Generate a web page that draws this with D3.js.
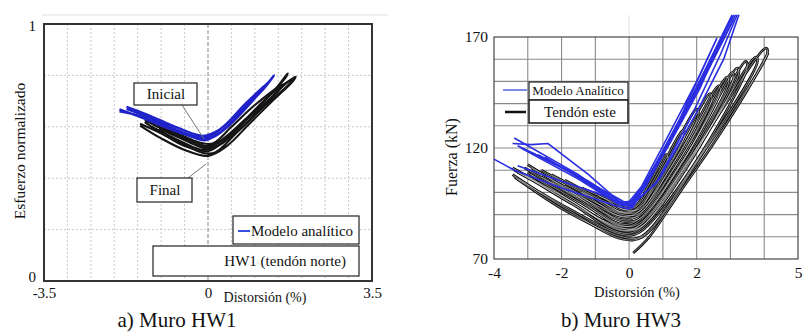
<!DOCTYPE html>
<html>
<head>
<meta charset="utf-8">
<script src="https://cdn.jsdelivr.net/npm/d3@7"></script>
<style>
  body { margin: 0; background: #fff; }
  svg text { font-family: "Liberation Serif", "DejaVu Serif", "Times New Roman", serif !important; fill: #111; }
</style>
</head>
<body>
<svg id="chart" width="809" height="335" font-family="Liberation Serif, DejaVu Serif, serif"></svg>
<script>
// ---- Datos: Muro HW1 (esfuerzo normalizado vs distorsión %) ----
const hw1XTicks = [-3.5, 0, 3.5];
const hw1YTicks = [0, 1];
const hw1GridX = [-3, -2.5, -2, -1.5, -1, -0.5, 0.5, 1, 1.5, 2, 2.5, 3];
const hw1GridY = [0.2, 0.4, 0.6, 0.8];

// ciclos del ensayo (tendón norte)
const hw1Ensayo = [
  [[-1.45,0.612],[-1.0,0.575],[-0.5,0.53],[-0.1,0.498],[0.15,0.5],[0.6,0.575],[1.1,0.665],[1.55,0.75],[1.87,0.795],[1.8,0.775],[1.4,0.705],[0.9,0.615],[0.4,0.525],[0.0,0.487],[-0.5,0.51],[-1.0,0.555],[-1.45,0.605]],
  [[-1.35,0.626],[-0.9,0.585],[-0.4,0.54],[-0.05,0.515],[0.2,0.525],[0.6,0.59],[1.1,0.68],[1.5,0.76],[1.7,0.808],[1.65,0.79],[1.3,0.72],[0.8,0.625],[0.35,0.545],[0.0,0.505],[-0.5,0.525],[-0.95,0.57],[-1.35,0.618]],
  [[-1.2,0.612],[-0.8,0.58],[-0.35,0.545],[0.0,0.525],[0.3,0.55],[0.8,0.63],[1.3,0.72],[1.8,0.785],[1.75,0.77],[1.2,0.68],[0.7,0.595],[0.25,0.53],[-0.1,0.51],[-0.6,0.545],[-1.2,0.6]],
  [[-1.05,0.6],[-0.6,0.57],[-0.2,0.54],[0.1,0.535],[0.5,0.6],[1.0,0.685],[1.6,0.765],[1.55,0.75],[0.9,0.64],[0.4,0.56],[0.0,0.52],[-0.5,0.55],[-1.05,0.592]]
];

// modelo analítico
const hw1Modelo = [
  [[-1.89,0.668],[-1.4,0.635],[-0.9,0.598],[-0.4,0.565],[-0.05,0.548],[0.3,0.585],[0.8,0.675],[1.2,0.75],[1.41,0.8],[1.3,0.775],[0.9,0.69],[0.45,0.605],[0.05,0.555],[-0.4,0.57],[-0.95,0.61],[-1.5,0.645],[-1.89,0.66]],
  [[-1.74,0.678],[-1.3,0.648],[-0.8,0.608],[-0.3,0.572],[0.0,0.56],[0.35,0.605],[0.8,0.69],[1.3,0.775],[1.2,0.755],[0.7,0.665],[0.25,0.59],[-0.1,0.565],[-0.7,0.6],[-1.3,0.64],[-1.74,0.67]]
];

// ---- Datos: Muro HW3 (fuerza kN vs distorsión %) ----
const hw3XTicks = [-4, -2, 0, 2, 5];
const hw3YTicks = [70, 120, 170];
const hw3GridX = [-3, -2, -1, 0, 1, 2, 3, 4];
const hw3GridY = [80, 90, 100, 110, 120, 130, 140, 150, 160];

// ciclos del ensayo (tendón este)
const hw3Ensayo = [
  [[-3.45,111],[-1.8,97],[-0.3,84],[0.3,85],[2.0,120],[4.05,165],[4.1,163],[2.2,118],[0.4,80],[-0.2,79],[-1.8,92],[-3.45,108]],
  [[-3.4,110],[-1.8,96],[-0.3,82],[0.25,83],[1.9,117],[3.75,161],[3.8,159],[2.0,114],[0.35,80],[-0.2,80],[-1.8,91],[-3.4,107]],
  [[-3.3,109],[-1.7,96],[-0.3,83],[0.2,84],[1.8,115],[3.45,159],[3.5,157],[1.9,112],[0.3,82],[-0.2,81],[-1.7,92],[-3.3,106]],
  [[-3.1,111],[-1.6,98],[-0.3,85],[0.2,86],[1.6,114],[3.05,154],[3.1,152],[1.7,111],[0.3,84],[-0.2,84],[-1.6,94],[-3.1,108]],
  [[-3.0,112.5],[-1.6,99],[-0.3,86],[0.2,87],[1.7,117],[3.2,156],[3.25,154],[1.8,114],[0.3,84],[-0.2,83],[-1.6,95],[-3.0,109]],
  [[-2.9,111],[-1.5,99],[-0.3,88],[0.2,89],[1.5,115],[2.9,152],[2.95,150],[1.6,112],[0.3,86],[-0.2,85],[-1.5,96],[-2.9,108]],
  [[-2.6,110],[-1.3,99],[-0.3,89.5],[0.2,90.5],[1.4,115],[2.65,148],[2.7,146],[1.5,112],[0.3,88],[-0.2,87],[-1.3,96],[-2.6,107]],
  [[-2.3,108],[-1.2,99],[-0.3,91],[0.2,92],[1.2,113],[2.4,144.5],[2.45,142],[1.3,110],[0.3,89.5],[-0.2,89],[-1.2,96],[-2.3,105]],
  [[-1.9,105.5],[-1.0,98],[-0.3,91.5],[0.2,92.5],[1.0,111],[2.0,137.5],[2.05,135],[1.1,108],[0.3,90.5],[-0.2,90],[-1.0,95.5],[-1.9,103]],
  [[-1.4,102],[-0.7,97],[-0.2,92.5],[0.2,93.5],[0.9,110],[1.6,128],[1.65,126],[1.0,107],[0.3,91.5],[-0.2,91],[-0.7,95],[-1.4,100]],
  [[-0.9,98.5],[-0.4,95],[-0.1,93],[0.2,94],[0.6,104],[1.1,117],[1.15,115],[0.7,102],[0.3,92.5],[-0.1,92],[-0.4,94],[-0.9,97]]
];
// rama final (descarga bajo cero)
const hw3Cola = [[0.12,72.7],[0.6,80],[1.5,100],[2.5,122],[3.5,146],[4.12,163]];

// modelo analítico
const hw3Modelo = [
  [[-4.0,115],[-3.4,110],[-2.0,102],[-0.4,94],[0.0,92.5],[0.4,102],[1.2,124],[2.2,151],[3.15,180]],
  [[-3.4,124.5],[-1.5,108],[-0.3,95],[0.1,93],[0.45,103],[1.3,127],[2.2,153],[3.1,180]],
  [[-3.45,122],[-2.9,121.5],[-2.4,122],[-1.2,108],[-0.3,96],[0.1,94],[0.5,104],[1.4,129],[3.05,180]],
  [[-3.2,120],[-1.5,106],[-0.35,95],[-0.1,94],[0.55,106],[1.5,133],[2.6,169.5],[2.0,150],[0.9,118],[0.1,95]],
  [[-2.9,118],[-1.6,108],[-0.3,97],[0.1,93.5],[0.5,103],[1.2,122],[2.1,147],[3.0,178]],
  [[-2.5,116],[-0.6,98],[-0.2,94],[0.1,95],[0.8,104],[1.8,133],[2.7,162],[3.2,180]],
  [[-3.3,112],[-2.2,106],[-1.0,100],[-0.25,95.5],[0.05,96],[0.5,104],[1.3,125],[2.4,157],[3.1,178]],
  [[-3.3,121],[-1.8,110],[-0.4,96],[0.0,94],[0.45,104],[1.3,126],[2.3,155],[3.05,179]],
  [[-2.7,117],[-1.2,105],[-0.3,96],[0.15,95],[0.9,106],[2.0,136],[2.8,160],[3.25,180]]
];

const FONT = "Liberation Serif, DejaVu Serif, serif";
const fmtGuion = d => String(d).replace("\u2212", "-");

const svg = d3.select("#chart");
svg.append("rect").attr("width", 809).attr("height", 335).attr("fill", "#fff");

// ================= a) Muro HW1 =================
const xL = d3.scaleLinear().domain([-3.5, 3.5]).range([44, 372]);
const yL = d3.scaleLinear().domain([0, 1]).range([281, 24]);
const gL = svg.append("g");

gL.append("line").attr("x1", 42).attr("x2", 388).attr("y1", 15).attr("y2", 15)
  .attr("stroke", "#ddd").attr("stroke-width", 1);

// grilla punteada
gL.selectAll("line.gx").data(hw1GridX).enter().append("line")
  .attr("x1", d => xL(d)).attr("x2", d => xL(d)).attr("y1", yL(1)).attr("y2", yL(0))
  .attr("stroke", "#c8c8c8").attr("stroke-dasharray", "2,2");
gL.selectAll("line.gy").data(hw1GridY).enter().append("line")
  .attr("x1", xL(-3.5)).attr("x2", xL(3.5)).attr("y1", d => yL(d)).attr("y2", d => yL(d))
  .attr("stroke", "#c8c8c8").attr("stroke-dasharray", "2,2");
// eje cero
gL.append("line").attr("x1", xL(0)).attr("x2", xL(0)).attr("y1", yL(1)).attr("y2", yL(0))
  .attr("stroke", "#9a9a9a").attr("stroke-dasharray", "4,2").attr("stroke-width", 1.2);

const lineL = d3.line().x(d => xL(d[0])).y(d => yL(d[1])).curve(d3.curveCatmullRom);

gL.selectAll("path.ens").data(hw1Ensayo).enter().append("path")
  .attr("d", lineL).attr("fill", "none").attr("stroke", "#151515").attr("stroke-width", 2.1);
gL.selectAll("path.mod").data(hw1Modelo).enter().append("path")
  .attr("d", lineL).attr("fill", "none").attr("stroke", "#1e22c8").attr("stroke-width", 2.3);

// marco
gL.append("rect").attr("x", 44).attr("y", 24).attr("width", 328).attr("height", 257)
  .attr("fill", "none").attr("stroke", "#333").attr("stroke-width", 2);

// anotaciones
gL.append("line").attr("x1", 182).attr("y1", 105).attr("x2", 204).attr("y2", 139)
  .attr("stroke", "#777").attr("stroke-width", 1);
gL.append("line").attr("x1", 188).attr("y1", 178).attr("x2", 206).attr("y2", 164)
  .attr("stroke", "#777").attr("stroke-width", 1);
gL.append("rect").attr("x", 134).attr("y", 83).attr("width", 63).attr("height", 22)
  .attr("fill", "#fff").attr("stroke", "#222").attr("stroke-width", 1.2);
gL.append("text").attr("x", 166).attr("y", 99).attr("text-anchor", "middle")
  .style("font-size", "15px").text("Inicial");
gL.append("rect").attr("x", 137).attr("y", 178).attr("width", 55).attr("height", 24)
  .attr("fill", "#fff").attr("stroke", "#222").attr("stroke-width", 1.2);
gL.append("text").attr("x", 165).attr("y", 195).attr("text-anchor", "middle")
  .style("font-size", "15px").text("Final");

// leyenda
gL.append("rect").attr("x", 233).attr("y", 216).attr("width", 126).attr("height", 28)
  .attr("fill", "#fff").attr("stroke", "#222").attr("stroke-width", 1.2);
gL.append("line").attr("x1", 238).attr("x2", 250).attr("y1", 231).attr("y2", 231)
  .attr("stroke", "#3a4ee0").attr("stroke-width", 2);
gL.append("text").attr("x", 251).attr("y", 236).style("font-size", "15px").text("Modelo analítico");
gL.append("rect").attr("x", 153).attr("y", 246).attr("width", 206).attr("height", 30)
  .attr("fill", "#fff").attr("stroke", "#222").attr("stroke-width", 1.2);
gL.append("text").attr("x", 346).attr("y", 266).attr("text-anchor", "end")
  .style("font-size", "15px").text("HW1 (tendón norte)");

// ejes
const ejeYL = gL.append("g").attr("transform", "translate(44,0)")
  .call(d3.axisLeft(yL).tickValues(hw1YTicks).tickFormat(d3.format("d")).tickSize(0).tickPadding(8))
  .attr("font-family", FONT)
  .call(g => g.select(".domain").remove());
ejeYL.selectAll("text").style("font-size", "15px").attr("fill", "#111")
  .attr("dy", d => d === 0 ? "0.05em" : "0.45em");
gL.append("g").attr("transform", "translate(0,281)")
  .call(d3.axisBottom(xL).tickValues(hw1XTicks).tickFormat(d => d === 0 ? "0" : fmtGuion(d3.format(".1f")(d))).tickSize(0).tickPadding(6))
  .attr("font-family", FONT)
  .call(g => g.select(".domain").remove())
  .selectAll("text").style("font-size", "15px").attr("fill", "#111");

gL.append("text").attr("x", 265).attr("y", 302).attr("text-anchor", "middle")
  .style("font-size", "14px").text("Distorsión (%)");
gL.append("text").attr("transform", "translate(25,151) rotate(-90)").attr("text-anchor", "middle")
  .style("font-size", "15.5px").text("Esfuerzo normalizado");
gL.append("text").attr("x", 177).attr("y", 327).attr("text-anchor", "middle")
  .style("font-size", "21px").text("a) Muro HW1");

// ================= b) Muro HW3 =================
const xR = d3.scaleLinear().domain([-4, 5]).range([494, 798]);
const yR = d3.scaleLinear().domain([70, 170]).range([259, 37]);
const gR = svg.append("g");

gR.append("line").attr("x1", xR(0)).attr("x2", xR(0)).attr("y1", 15).attr("y2", 37)
  .attr("stroke", "#e2e2e2").attr("stroke-width", 1);

gR.selectAll("line.gx").data(hw3GridX).enter().append("line")
  .attr("x1", d => xR(d)).attr("x2", d => xR(d)).attr("y1", yR(170)).attr("y2", yR(70))
  .attr("stroke", "#8a8a8a").attr("stroke-width", 1.1);
gR.selectAll("line.gy").data(hw3GridY).enter().append("line")
  .attr("x1", xR(-4)).attr("x2", xR(5)).attr("y1", d => yR(d)).attr("y2", d => yR(d))
  .attr("stroke", "#8a8a8a").attr("stroke-width", 1.1);
gR.append("rect").attr("x", 494).attr("y", 37).attr("width", 304).attr("height", 222)
  .attr("fill", "none").attr("stroke", "#555").attr("stroke-width", 1.3);

const lineR = d3.line().x(d => xR(d[0])).y(d => yR(d[1])).curve(d3.curveCatmullRom);
const lineRM = d3.line().x(d => xR(d[0])).y(d => yR(d[1]));

// ensayo: trazo negro con núcleo blanco (aspecto de doble línea)
const ensR = hw3Ensayo.concat([hw3Cola]);
gR.selectAll("path.ens").data(ensR).enter().append("path")
  .attr("d", lineR).attr("fill", "none").attr("stroke", "#0c0c0c").attr("stroke-width", 2.6);
gR.selectAll("path.ensw").data(ensR).enter().append("path")
  .attr("d", lineR).attr("fill", "none").attr("stroke", "#fff").attr("stroke-width", 0.5);
gR.selectAll("path.mod").data(hw3Modelo).enter().append("path")
  .attr("d", lineRM).attr("fill", "none").attr("stroke", "#2a2ee0").attr("stroke-width", 1.6);

// leyenda
gR.append("line").attr("x1", 503).attr("x2", 527).attr("y1", 90).attr("y2", 90)
  .attr("stroke", "#5566dd").attr("stroke-width", 1.5);
gR.append("line").attr("x1", 505).attr("x2", 526).attr("y1", 112).attr("y2", 112)
  .attr("stroke", "#111").attr("stroke-width", 2.5);
gR.append("rect").attr("x", 529).attr("y", 82).attr("width", 99).attr("height", 18)
  .attr("fill", "#fff").attr("stroke", "#222").attr("stroke-width", 1.2);
gR.append("text").attr("x", 578).attr("y", 95).attr("text-anchor", "middle")
  .style("font-size", "13px").text("Modelo Analítico");
gR.append("rect").attr("x", 529).attr("y", 100).attr("width", 99).attr("height", 23)
  .attr("fill", "#fff").attr("stroke", "#222").attr("stroke-width", 1.6);
gR.append("text").attr("x", 580).attr("y", 117).attr("text-anchor", "middle")
  .style("font-size", "15px").text("Tendón este");

gR.append("g").attr("transform", "translate(494,0)")
  .call(d3.axisLeft(yR).tickValues(hw3YTicks).tickSize(0).tickPadding(6))
  .attr("font-family", FONT)
  .call(g => g.select(".domain").remove())
  .selectAll("text").style("font-size", "15.5px").attr("fill", "#111");
gR.append("g").attr("transform", "translate(0,259)")
  .call(d3.axisBottom(xR).tickValues(hw3XTicks).tickFormat(d => fmtGuion(d3.format("d")(d))).tickSize(0).tickPadding(8))
  .attr("font-family", FONT)
  .call(g => g.select(".domain").remove())
  .selectAll("text").style("font-size", "15.5px").attr("fill", "#111");

gR.append("text").attr("x", 637).attr("y", 297).attr("text-anchor", "middle")
  .style("font-size", "14.5px").text("Distorsión (%)");
gR.append("text").attr("transform", "translate(457,157) rotate(-90)").attr("text-anchor", "middle")
  .style("font-size", "16px").text("Fuerza (kN)");
gR.append("text").attr("x", 621).attr("y", 327).attr("text-anchor", "middle")
  .style("font-size", "21px").text("b) Muro HW3");
</script>
</body>
</html>
